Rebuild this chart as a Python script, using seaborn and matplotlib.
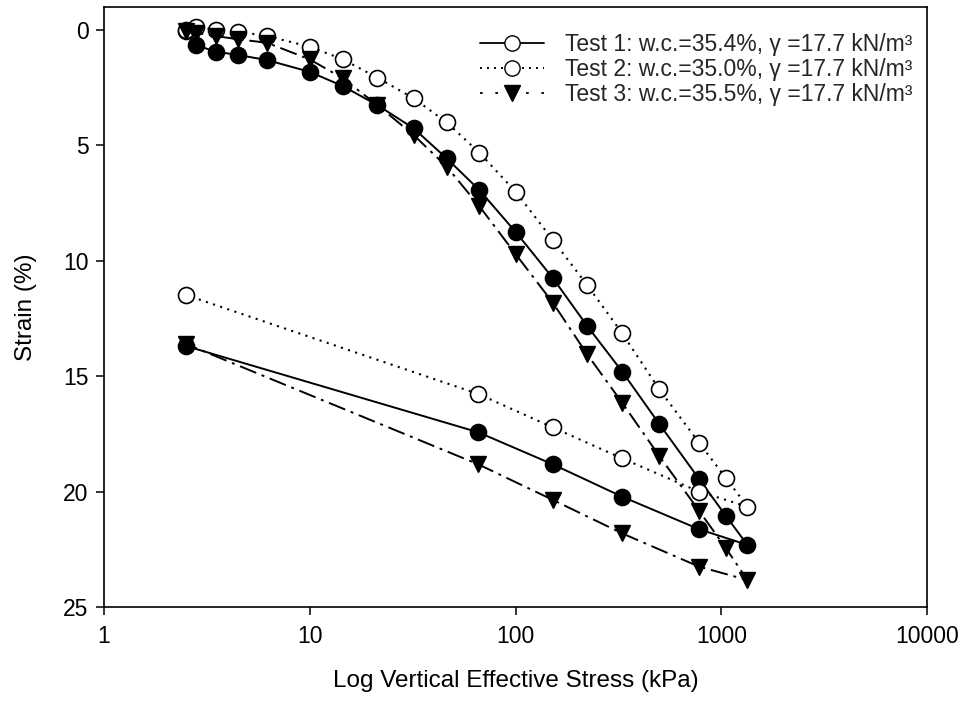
import matplotlib
matplotlib.use("Agg")
import matplotlib.pyplot as plt
from matplotlib.lines import Line2D
import numpy as np
import pandas as pd
import seaborn as sns

# ---- data ----
stress_load = [2.5, 2.8, 3.5, 4.5, 6.2, 10, 14.5, 21.3, 32, 46.3, 66.7, 100,
               152, 223, 330, 500, 780, 1055, 1340]
stress_unload = [780, 330, 152, 66, 2.5]

t1_load = [0.03, 0.65, 0.94, 1.08, 1.30, 1.81, 2.43, 3.25, 4.26, 5.56, 6.93,
           8.74, 10.75, 12.82, 14.8, 17.07, 19.45, 21.06, 22.31]
t1_unload = [21.63, 20.22, 18.82, 17.43, 13.69]

t2_load = [0.0, -0.15, 0.0, 0.07, 0.26, 0.72, 1.27, 2.06, 2.96, 4.0, 5.31,
           7.0, 9.1, 11.05, 13.14, 15.57, 17.88, 19.42, 20.65]
t2_unload = [20.0, 18.56, 17.22, 15.77, 11.48]

t3_load = [0.05, 0.12, 0.26, 0.40, 0.55, 1.27, 2.09, 3.25, 4.55, 5.92, 7.63,
           9.7, 11.82, 14.05, 16.15, 18.46, 20.83, 22.46, 23.83]
t3_unload = [23.25, 21.81, 20.36, 18.82, 13.6]

labels = ["Test 1: w.c.=35.4%, \u03b3 =17.7 kN/m\u00b3",
          "Test 2: w.c.=35.0%, \u03b3 =17.7 kN/m\u00b3",
          "Test 3: w.c.=35.5%, \u03b3 =17.7 kN/m\u00b3"]
x_ticks = [1, 10, 100, 1000, 10000]
x_tick_labels = ["1", "10", "100", "1000", "10000"]
y_ticks = [0, 5, 10, 15, 20, 25]

# ---- style ----
sns.set_theme(style="white")
plt.rcParams["font.family"] = ["Liberation Sans", "DejaVu Sans"]

fig = plt.figure(figsize=(9.63, 7.08), dpi=100)
ax = fig.add_axes([104 / 963, 1 - 607 / 708, (927 - 104) / 963, (607 - 7) / 708])

x_all = stress_load + stress_unload
series = [
    (t1_load + t1_unload, dict(color="black", lw=1.4, ls="-", marker="o",
                               markersize=11.5, markerfacecolor="black",
                               markeredgecolor="black", markeredgewidth=1.2)),
    (t2_load + t2_unload, dict(color="black", lw=1.5, ls=(0, (1, 2.6)), marker="o",
                               markersize=11.5, markerfacecolor="white",
                               markeredgecolor="black", markeredgewidth=1.2)),
    (t3_load + t3_unload, dict(color="black", lw=1.4, ls=(0, (9, 3, 1.5, 3)), marker="v",
                               markersize=12, markerfacecolor="black",
                               markeredgecolor="black", markeredgewidth=1.0)),
]
for y, kw in series:
    df = pd.DataFrame({"x": x_all, "y": y})
    sns.lineplot(data=df, x="x", y="y", sort=False, estimator=None, ax=ax,
                 legend=False, **kw)

ax.set_xscale("log")
ax.set_xlim(1, 10000)
ax.set_ylim(25, -1.0)
ax.set_xticks(x_ticks)
ax.set_xticklabels(x_tick_labels)
ax.xaxis.set_minor_locator(matplotlib.ticker.NullLocator())
ax.set_yticks(y_ticks)
ax.tick_params(axis="both", which="major", direction="out", length=6, width=1.1,
               labelsize=16.5, color="black", labelcolor="black", pad=5,
               bottom=True, left=True)
ax.tick_params(axis="x", pad=7)
for s in ax.spines.values():
    s.set_color("black")
    s.set_linewidth(1.2)

ax.set_xlabel("Log Vertical Effective Stress (kPa)", fontsize=17.5, labelpad=16, color="black")
ax.set_ylabel("Strain (%)", fontsize=17.5, labelpad=19, color="black")

handles = [
    Line2D([], [], color="black", lw=1.3, ls="-", marker="o", markersize=11,
           markerfacecolor="white", markeredgecolor="black"),
    Line2D([], [], color="black", lw=1.4, ls=(0, (1, 2.6)), marker="o", markersize=11,
           markerfacecolor="white", markeredgecolor="black"),
    Line2D([], [], color="black", lw=1.3, ls=(0, (1.5, 7)), marker="v", markersize=12,
           markerfacecolor="black", markeredgecolor="black"),
]
leg = ax.legend(handles, labels, loc="upper right", bbox_to_anchor=(0.992, 0.970),
                borderaxespad=0, frameon=True, fancybox=False, fontsize=16.5,
                handlelength=2.8, handletextpad=0.9, labelspacing=0.08,
                borderpad=0.35, framealpha=1)
leg.get_frame().set_edgecolor("none")
leg.get_frame().set_facecolor("white")
leg.set_zorder(10)

fig.savefig("out.png", dpi=100)
